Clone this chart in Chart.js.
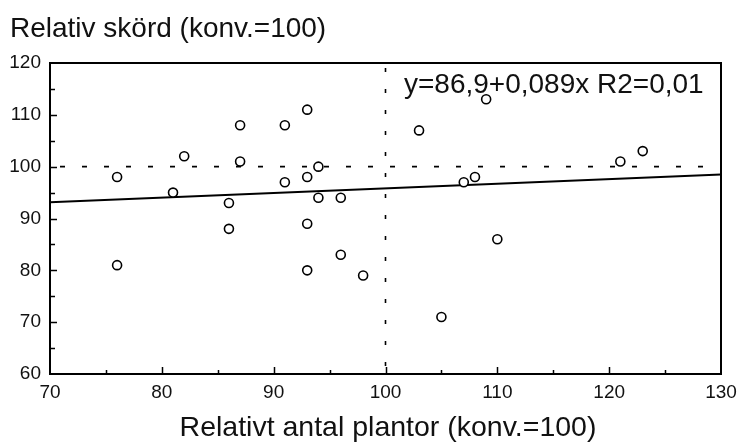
<!DOCTYPE html>
<html>
<head>
<meta charset="utf-8">
<script src="https://cdn.jsdelivr.net/npm/chart.js@4/dist/chart.umd.min.js"></script>
<style>
  html, body { margin: 0; padding: 0; background: #fff; }
  #wrap { width: 739px; height: 443px; }
</style>
</head>
<body>
<div id="wrap"><canvas id="chart" width="739" height="443"></canvas></div>
<script>
// plant count vs yield, both relative to conventional (=100)
const plantor = [76, 76, 81, 82, 86, 86, 87, 87, 91, 91, 93, 93, 93, 93, 94, 94, 96, 96, 98, 103, 105, 107, 108, 109, 110, 121, 123];
const skord = [98, 81, 95, 102, 93, 88, 108, 101, 108, 97, 111, 98, 89, 80, 100, 94, 94, 83, 79, 107, 71, 97, 98, 113, 86, 101, 103];

const xRange = [70, 130];
const yRange = [60, 120];
const refValue = 100;

// regression from the figure text
const intercept = 86.9;
const slope = 0.089;
const equationText = 'y=86,9+0,089x R2=0,01';

const yTitle = 'Relativ skörd (konv.=100)';
const xTitle = 'Relativt antal plantor (konv.=100)';

const FONT = '"Liberation Sans", Arial, Helvetica, sans-serif';

const points = plantor.map((x, i) => ({ x: x, y: skord[i] }));
const fitLine = xRange.map(x => ({ x: x, y: intercept + slope * x }));

// frame, inward tick marks, titles and equation
const decorPlugin = {
    id: 'decor',
    afterDraw(chart) {
        const ctx = chart.ctx;
        const area = chart.chartArea;
        const xs = chart.scales.x;
        const ys = chart.scales.y;
        ctx.save();

        ctx.strokeStyle = '#000';
        ctx.lineWidth = 2;
        ctx.strokeRect(area.left, area.top, area.right - area.left, area.bottom - area.top);

        ctx.lineWidth = 1.5;
        ctx.beginPath();
        xs.ticks.forEach(t => {
            if (t.value <= xRange[0] || t.value >= xRange[1]) return;
            const px = Math.round(xs.getPixelForValue(t.value)) + 0.5;
            const len = t.value % 10 === 0 ? 7 : 4;
            ctx.moveTo(px, area.bottom);
            ctx.lineTo(px, area.bottom - len);
        });
        ys.ticks.forEach(t => {
            if (t.value <= yRange[0] || t.value >= yRange[1]) return;
            const py = Math.round(ys.getPixelForValue(t.value)) + 0.5;
            const len = t.value % 10 === 0 ? 7 : 5;
            ctx.moveTo(area.left, py);
            ctx.lineTo(area.left + len, py);
        });
        ctx.stroke();

        ctx.fillStyle = '#111';
        ctx.textBaseline = 'alphabetic';
        ctx.font = '28px ' + FONT;
        ctx.textAlign = 'left';
        ctx.fillText(yTitle, 10, 37);
        ctx.fillText(equationText, 404, 93);
        ctx.textAlign = 'center';
        ctx.font = '28.5px ' + FONT;
        ctx.fillText(xTitle, 388, 436);

        ctx.restore();
    }
};

new Chart(document.getElementById('chart').getContext('2d'), {
    type: 'scatter',
    data: {
        datasets: [
            {
                label: 'Försök',
                data: points,
                pointStyle: 'circle',
                pointRadius: 4.5,
                pointBorderWidth: 1.6,
                pointBorderColor: '#000',
                pointBackgroundColor: '#fff'
            },
            {
                type: 'line',
                label: 'Regression',
                data: fitLine,
                borderColor: '#000',
                borderWidth: 2,
                pointRadius: 0,
                fill: false
            },
            {
                type: 'line',
                label: 'Skörd 100',
                data: xRange.map(x => ({ x: x, y: refValue })),
                borderColor: '#000',
                borderWidth: 1.6,
                borderDash: [5, 17],
                borderDashOffset: -10,
                pointRadius: 0,
                fill: false
            },
            {
                type: 'line',
                label: 'Plantor 100',
                data: yRange.map(y => ({ x: refValue, y: y })),
                borderColor: '#000',
                borderWidth: 1.6,
                borderDash: [4, 17],
                borderDashOffset: -8,
                pointRadius: 0,
                fill: false
            }
        ]
    },
    options: {
        responsive: false,
        animation: false,
        devicePixelRatio: 1,
        layout: {
            autoPadding: false,
            padding: { top: 63, right: 18, left: 0, bottom: 0 }
        },
        plugins: {
            legend: { display: false },
            tooltip: { enabled: false }
        },
        scales: {
            x: {
                type: 'linear',
                min: xRange[0],
                max: xRange[1],
                afterFit(scale) {
                    scale.height = 69;
                    scale.paddingLeft = 0;
                    scale.paddingRight = 0;
                },
                border: { display: false },
                grid: { display: false, drawTicks: false },
                ticks: {
                    stepSize: 5,
                    padding: 7,
                    maxRotation: 0,
                    autoSkip: false,
                    color: '#111',
                    font: { family: FONT, size: 19 },
                    callback: v => (v % 10 === 0 ? v : '')
                }
            },
            y: {
                type: 'linear',
                min: yRange[0],
                max: yRange[1],
                afterFit(scale) {
                    scale.width = 50;
                    scale.paddingTop = 0;
                    scale.paddingBottom = 0;
                },
                border: { display: false },
                grid: { display: false, drawTicks: false },
                ticks: {
                    stepSize: 5,
                    padding: 9,
                    autoSkip: false,
                    color: '#111',
                    font: { family: FONT, size: 19 },
                    callback: v => (v % 10 === 0 ? v : '')
                }
            }
        }
    },
    plugins: [decorPlugin]
});
</script>
</body>
</html>
